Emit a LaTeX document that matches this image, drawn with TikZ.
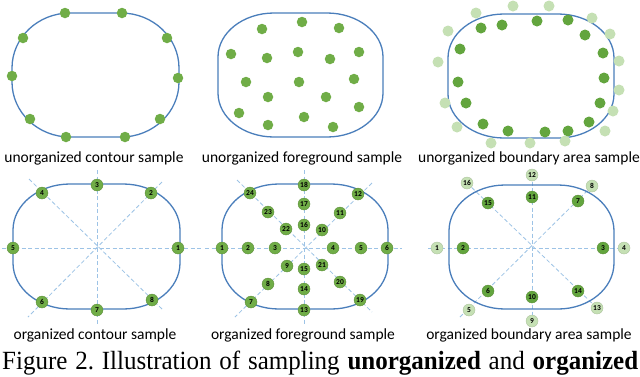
\documentclass[tikz,border=0pt]{standalone}
\usepackage{fontspec}
\setmainfont{Liberation Serif}
\newfontfamily\lbl{Carlito}
\definecolor{outl}{HTML}{4A7EBB}
\definecolor{dashc}{HTML}{9DC3E6}
\definecolor{grn}{HTML}{70AD47}
\definecolor{dgrn}{HTML}{63A53E}
\definecolor{lgrn}{HTML}{C5E0B4}
\tikzset{
  outline/.style={draw=outl, line width=1.3pt},
  guide/.style={draw=dashc, line width=0.8pt, dash pattern=on 4pt off 2.5pt},
  dot/.style={circle, fill=grn, minimum size=10.5pt, inner sep=0pt},
  ddot/.style={circle, fill=dgrn, minimum size=11pt, inner sep=0pt},
  ldot/.style={circle, fill=lgrn, minimum size=11pt, inner sep=0pt},
  ndot/.style={circle, fill=grn, draw=grn!80!black, line width=0.3pt, minimum size=12pt, inner sep=0pt, font=\lbl\bfseries\fontsize{7.5}{8}\selectfont},
  nddot/.style={ndot, fill=dgrn},
  nldot/.style={ndot, fill=lgrn, draw=lgrn!85!black},
  caplbl/.style={font=\lbl\fontsize{15.5}{17}\selectfont, anchor=base, inner sep=0pt}
}
% x0 y0 x1 y1 rx ry
\newcommand\blob[6]{%
 \draw[outline] ({#1+#5},#2) -- ({#3-#5},#2)
 .. controls ({#3-0.448*#5},#2) and (#3,{#2+0.448*#6}) .. (#3,{#2+#6})
 -- (#3,{#4-#6})
 .. controls (#3,{#4-0.448*#6}) and ({#3-0.448*#5},#4) .. ({#3-#5},#4)
 -- ({#1+#5},#4)
 .. controls ({#1+0.448*#5},#4) and (#1,{#4-0.448*#6}) .. (#1,{#4-#6})
 -- (#1,{#2+#6})
 .. controls (#1,{#2+0.448*#6}) and ({#1+0.448*#5},#2) .. ({#1+#5},#2) -- cycle;}
\begin{document}
\begin{tikzpicture}[x=1pt,y=-1pt]
\useasboundingbox[fill=white] (0,0) rectangle (640,376);
% ---------- panel 1 ----------
\blob{12}{13}{179}{137}{58}{55}
\foreach \n/\p in {1/{(65,13)},2/{(122,13)},3/{(23,38)},4/{(167,38)},5/{(12,76)},6/{(178,78)},7/{(30,119)},8/{(160,119)},9/{(66,137)},10/{(125,137)}}
  \node[dot] (a\n) at \p {};
\node[caplbl] (la) at (94,162.5) {unorganized contour sample};
% ---------- panel 2 ----------
\blob{218}{13}{383}{137}{56}{44}
\foreach \n/\p in {1/{(262,29)},2/{(302,22)},3/{(339,28)},4/{(231,54)},5/{(267,58)},6/{(298,52)},7/{(330,59)},8/{(359,52)},9/{(246,82)},10/{(299,82)},11/{(354,79)},12/{(268,97)},13/{(326,97)},14/{(239,113)},15/{(359,107)},16/{(268,125)},17/{(304,117)},18/{(333,127)}}
  \node[dot] (b\n) at \p {};
\node[caplbl] (lb) at (302,162.5) {unorganized foreground sample};
% ---------- panel 3 ----------
\blob{448}{14}{614}{138}{56}{44}
\foreach \n/\p in {1/{(481,28)},2/{(502,25)},3/{(537,21)},4/{(568,20)},5/{(585,35)},6/{(603,53)},7/{(604,78)},8/{(600,103)},9/{(589,122)},10/{(568,131)},11/{(545,132)},12/{(508,131)},13/{(483,124)},14/{(466,103)},15/{(458,82)},16/{(460,49)}}
  \node[ddot] (c\n) at \p {};
\foreach \n/\p in {1/{(476,13)},2/{(513,6)},3/{(549,6)},4/{(592,18)},5/{(610,34)},6/{(619,61)},7/{(619,90)},8/{(613,111)},9/{(605,131)},10/{(565,141)},11/{(530,143)},12/{(491,143)},13/{(457,127)},14/{(445,103)},15/{(438,62)},16/{(448,31)}}
  \node[ldot] (cl\n) at \p {};
\node[caplbl] (lc) at (529,162.5) {unorganized boundary area sample};
% ---------- panel 4 ----------
\coordinate (dc) at (97,248);
\coordinate (dh1) at (2,248); \coordinate (dh2) at (202,248);
\coordinate (dv1) at (97,170); \coordinate (dv2) at (97,325);
\coordinate (dd1) at (29,179); \coordinate (dd2) at (163,310);
\coordinate (dd3) at (162,182); \coordinate (dd4) at (28,317);
\draw[guide] (dh1) -- (dh2);
\draw[guide] (dv1) -- (dv2);
\draw[guide] (dd1) -- (dd2);
\draw[guide] (dd3) -- (dd4);
\blob{13}{184}{180}{309}{57}{46}
\foreach \n/\p in {1/{(178,248)},2/{(151,193)},3/{(97,185)},4/{(42,193)},5/{(13,248)},6/{(42,302)},7/{(97,310)},8/{(152,300)}}
  \node[ndot] (d\n) at \p {\n};
\node[caplbl] (ld) at (95,339) {organized contour sample};
% ---------- panel 5 ----------
\coordinate (ec) at (304,248);
\coordinate (eh1) at (205,248); \coordinate (eh2) at (402,248);
\coordinate (ev1) at (304,170); \coordinate (ev2) at (304,325);
\coordinate (ed1) at (237,180); \coordinate (ed2) at (372,312);
\coordinate (ed3) at (372,183); \coordinate (ed4) at (235,317);
\draw[guide] (eh1) -- (eh2);
\draw[guide] (ev1) -- (ev2);
\draw[guide] (ed1) -- (ed2);
\draw[guide] (ed3) -- (ed4);
\blob{222}{184}{388}{309}{57}{46}
\foreach \n/\p in {1/{(222,248)},2/{(248,248)},3/{(275,248)},4/{(333,248)},5/{(361,248)},6/{(387,248)},7/{(251,302)},8/{(268,284)},9/{(287,266)},10/{(322,230)},11/{(340,213)},12/{(358,194)},13/{(304,310)},14/{(304,289)},15/{(304,269)},16/{(304,225)},17/{(304,204)},18/{(304,185)},19/{(360,300)},20/{(340,282)},21/{(322,265)},22/{(286,229)},23/{(268,212)},24/{(250,193)}}
  \node[ndot] (e\n) at \p {\n};
\node[caplbl] (le) at (303,339) {organized foreground sample};
% ---------- panel 6 ----------
\coordinate (fc) at (532,248);
\coordinate (fh1) at (428,248); \coordinate (fh2) at (622,248);
\coordinate (fv1) at (532,175); \coordinate (fv2) at (532,321);
\coordinate (fd1) at (467,183); \coordinate (fd2) at (597,308);
\coordinate (fd3) at (592,186); \coordinate (fd4) at (460,317);
\draw[guide] (fh1) -- (fh2);
\draw[guide] (fv1) -- (fv2);
\draw[guide] (fd1) -- (fd2);
\draw[guide] (fd3) -- (fd4);
\blob{449}{185}{614}{309}{56}{46}
\foreach \n/\p in {2/{(463,248)},3/{(603,248)},6/{(488,291)},7/{(578,201)},10/{(532,297)},11/{(532,197)},14/{(578,291)},15/{(488,203)}}
  \node[nddot] (f\n) at \p {\n};
\foreach \n/\p in {1/{(437,248)},4/{(624,248)},5/{(469,310)},8/{(592,186)},9/{(532,321)},12/{(532,175)},13/{(597,308)},16/{(467,183)}}
  \node[nldot] (f\n) at \p {\n};
\node[caplbl] (lf) at (529,339) {organized boundary area sample};
% ---------- caption ----------
\node[anchor=base west, inner sep=0pt, font=\fontsize{25}{28}\selectfont] (cap) at (2,369.5)
  {\frenchspacing\scalebox{1}[1.05]{\makebox[636pt][s]{Figure 2. Illustration of sampling \textbf{unorganized} and \textbf{organized}}}};
\end{tikzpicture}
\end{document}
